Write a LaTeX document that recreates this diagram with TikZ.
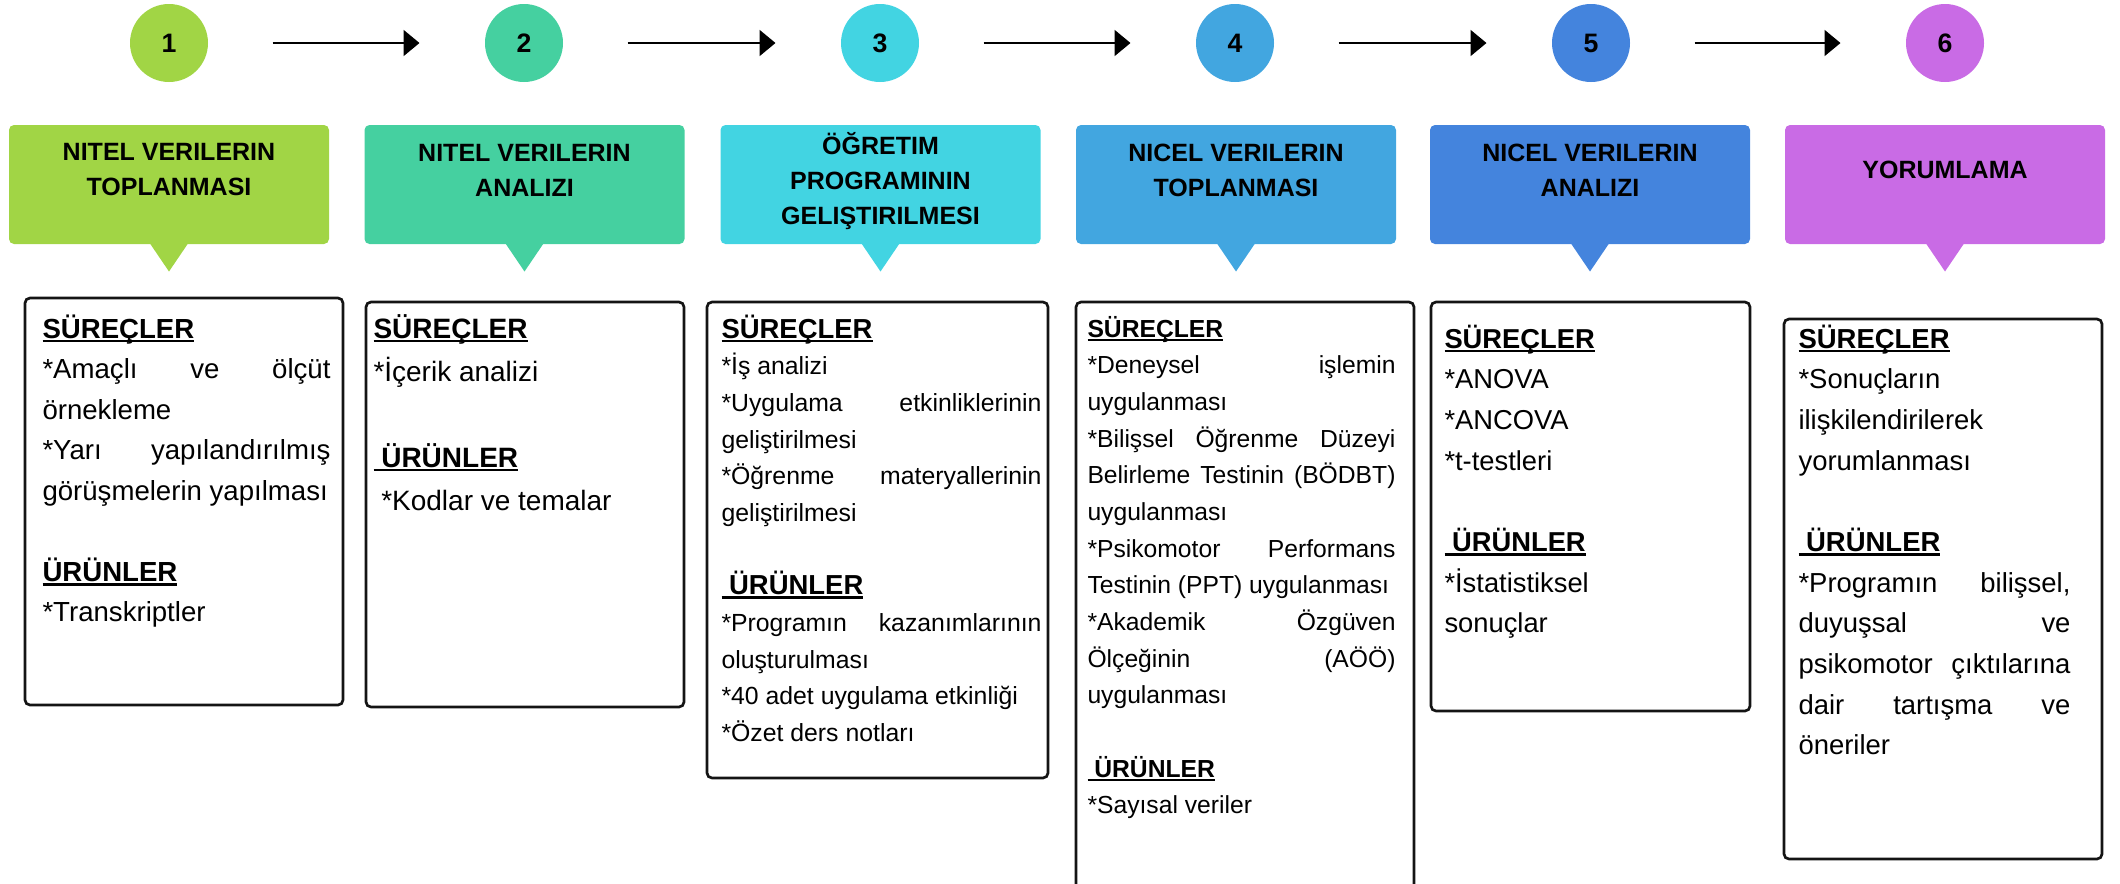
\documentclass[tikz,border=0pt]{standalone}
\usepackage{fontspec}
\setmainfont{Liberation Sans}
\usetikzlibrary{arrows.meta,calc}

\hyphenpenalty=10000
\exhyphenpenalty=10000
\hbadness=10000

\definecolor{stepA}{RGB}{161,213,69}
\definecolor{stepB}{RGB}{69,208,160}
\definecolor{stepC}{RGB}{66,212,226}
\definecolor{stepD}{RGB}{66,166,224}
\definecolor{stepE}{RGB}{68,132,221}
\definecolor{stepF}{RGB}{201,107,229}

% underlined bold heading
\newcommand\hd[1]{\setbox0\hbox{\bfseries #1}\rlap{\rule[-3.3pt]{\wd0}{2pt}}\box0}

\tikzset{every picture/.style={line width=0.75pt},
	numcirc/.style={circle,minimum size=58.5pt,inner sep=0pt,font=\fontsize{20}{24}\selectfont\bfseries},
	headbox/.style={rectangle,rounded corners=3.75pt,minimum width=240pt,minimum height=89.25pt,inner sep=0pt},
	headtext/.style={align=center,inner sep=0pt,font=\fontsize{18.75}{26.25}\selectfont\bfseries},
	panel/.style={draw={rgb, 255:red, 20; green, 20; blue, 20},line width=2pt,rounded corners=3.75pt},
	listtext/.style={anchor=base west,inner sep=0pt,align=justify},
	flow/.style={line width=1.5pt,-{Triangle[length=12pt,width=19.5pt]},shorten <=48pt,shorten >=48.75pt}
}

\begin{document}
\begin{tikzpicture}[x=0.75pt,y=0.75pt,yscale=-1,xscale=1]
	\path[use as bounding box] (0,0) rectangle (2120,883);
	\clip (0,0) rectangle (2120,883);
	%Shape: Circle
	\node[numcirc,fill=stepA] (n1) at (169,43) {1};
	\node[numcirc,fill=stepB] (n2) at (524,43) {2};
	\node[numcirc,fill=stepC] (n3) at (880,43) {3};
	\node[numcirc,fill=stepD] (n4) at (1235,43) {4};
	\node[numcirc,fill=stepE] (n5) at (1591,43) {5};
	\node[numcirc,fill=stepF] (n6) at (1945,43) {6};
	%Straight Lines
	\draw[flow] (n1) -- (n2);
	\draw[flow] (n2) -- (n3);
	\draw[flow] (n3) -- (n4);
	\draw[flow] (n4) -- (n5);
	\draw[flow] (n5) -- (n6);

	%Shape: Callout
	\node[headbox,fill=stepA] (h1) at (169,184.5) {};
	\fill[stepA] ($(h1.south)+(-19,-1)$) -- ($(h1.south)+(19,-1)$) -- ($(h1.south)+(0,27)$) -- cycle;
	\node[headbox,fill=stepB] (h2) at (524.5,184.5) {};
	\fill[stepB] ($(h2.south)+(-19,-1)$) -- ($(h2.south)+(19,-1)$) -- ($(h2.south)+(0,27)$) -- cycle;
	\node[headbox,fill=stepC] (h3) at (880.5,184.5) {};
	\fill[stepC] ($(h3.south)+(-19,-1)$) -- ($(h3.south)+(19,-1)$) -- ($(h3.south)+(0,27)$) -- cycle;
	\node[headbox,fill=stepD] (h4) at (1236,184.5) {};
	\fill[stepD] ($(h4.south)+(-19,-1)$) -- ($(h4.south)+(19,-1)$) -- ($(h4.south)+(0,27)$) -- cycle;
	\node[headbox,fill=stepE] (h5) at (1590,184.5) {};
	\fill[stepE] ($(h5.south)+(-19,-1)$) -- ($(h5.south)+(19,-1)$) -- ($(h5.south)+(0,27)$) -- cycle;
	\node[headbox,fill=stepF] (h6) at (1945,184.5) {};
	\fill[stepF] ($(h6.south)+(-19,-1)$) -- ($(h6.south)+(19,-1)$) -- ($(h6.south)+(0,27)$) -- cycle;

	% Text Node
	\node[headtext] (l1) at (169,170) {NITEL VERILERIN\\TOPLANMASI};
	\node[headtext] (l2) at (524.5,170) {NITEL VERILERIN\\ANALIZI};
	\node[headtext] (l3) at (880.5,181.5) {ÖĞRETIM\\PROGRAMININ\\GELIŞTIRILMESI};
	\node[headtext] (l4) at (1236,170) {NICEL VERILERIN\\TOPLANMASI};
	\node[headtext] (l5) at (1590,170) {NICEL VERILERIN\\ANALIZI};
	\node[headtext] (l6) at (1945,170) {YORUMLAMA};

	%Shape: Rectangle
	\draw[panel] (25,298) rectangle (343,705);
	\draw[panel] (366,302) rectangle (684,707);
	\draw[panel] (707,302) rectangle (1048,778);
	\draw[panel] (1076,302) rectangle (1414,900);
	\draw[panel] (1431,302) rectangle (1750,711);
	\draw[panel] (1784,319) rectangle (2102,859);

	% Text Node
	\node[listtext,text width=216pt,font=\fontsize{20.7}{30.4}\selectfont] (s1) at (42,338) {\hd{SÜREÇLER}\\
		{*}Amaçlı ve ölçüt\linebreak örnekleme\\
		{*}Yarı yapılandırılmış\linebreak görüşmelerin yapılması\\[30.4pt]
		\hd{ÜRÜNLER}\\
		{*}Transkriptler};
	% Text Node
	\node[listtext,text width=225pt,font=\fontsize{21}{32.25}\selectfont] (s2) at (373,338) {\hd{SÜREÇLER}\\
		{*}İçerik analizi\\[32.25pt]
		\hd{\ ÜRÜNLER}\\
		\hbox{}\ *Kodlar ve temalar};
	% Text Node
	\node[listtext,text width=240pt,font=\fontsize{18.6}{27.5}\selectfont] (s3) at (721,338) {{\fontsize{20.6}{27.5}\selectfont\hd{SÜREÇLER}}\\
		{*}İş analizi\\
		{*}Uygulama etkinliklerinin\linebreak geliştirilmesi\\
		{*}Öğrenme materyallerinin\linebreak geliştirilmesi\\[27.5pt]
		{\fontsize{20.6}{27.5}\selectfont\hd{\ ÜRÜNLER}}\\
		{*}Programın kazanımlarının\linebreak oluşturulması\\
		{*}40 adet uygulama etkinliği\\
		{*}Özet ders notları};
	% Text Node
	\node[listtext,text width=231pt,font=\fontsize{18.5}{27.5}\selectfont] (s4) at (1087,337) {\hd{SÜREÇLER}\\
		{*}Deneysel işlemin\linebreak uygulanması\\
		{*}Bilişsel Öğrenme Düzeyi\linebreak Belirleme Testinin (BÖDBT)\linebreak uygulanması\\
		{*}Psikomotor Performans\linebreak Testinin (PPT) uygulanması\\
		{*}Akademik Özgüven\linebreak Ölçeğinin (AÖÖ)\linebreak uygulanması\\[27.5pt]
		\hd{\ ÜRÜNLER}\\
		{*}Sayısal veriler};
	% Text Node
	\node[listtext,text width=217.5pt,font=\fontsize{20.5}{30.5}\selectfont] (s5) at (1444,348) {\hd{SÜREÇLER}\\
		{*}ANOVA\\
		{*}ANCOVA\\
		{*}t-testleri\\[30.5pt]
		\hd{\ ÜRÜNLER}\\
		{*}İstatistiksel\\
		sonuçlar};
	% Text Node
	\node[listtext,text width=204pt,font=\fontsize{20.6}{30.5}\selectfont] (s6) at (1798,348) {\hd{SÜREÇLER}\\
		{*}Sonuçların\\
		ilişkilendirilerek\\
		yorumlanması\\[30.5pt]
		\hd{\ ÜRÜNLER}\\
		{*}Programın bilişsel,\linebreak duyuşsal ve\linebreak psikomotor çıktılarına\linebreak dair tartışma ve\linebreak öneriler};
\end{tikzpicture}
\end{document}
